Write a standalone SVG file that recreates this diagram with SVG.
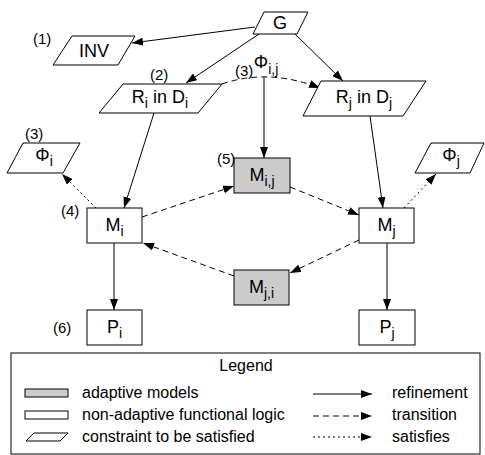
<svg xmlns="http://www.w3.org/2000/svg" width="485" height="455" viewBox="0 0 485 455">
<style>
.n{fill:#fff;stroke:#000;stroke-width:1}
.a{fill:#cccccc}
.t{font-family:"Liberation Sans",Arial,Helvetica,sans-serif;font-size:18px;fill:#000;text-anchor:middle}
.s{font-size:14px}
.l{font-family:"Liberation Sans",Arial,Helvetica,sans-serif;font-size:15px;fill:#000}
.g{font-family:"Liberation Sans",Arial,Helvetica,sans-serif;font-size:16px;fill:#000}
.e{fill:none;stroke:#000;stroke-width:1}
.d{stroke-dasharray:6 4}
.o{stroke-dasharray:2 3}
</style>
<defs>
<marker id="ah" viewBox="0 0 11 8" refX="11" refY="4" markerWidth="11" markerHeight="8" orient="auto" markerUnits="userSpaceOnUse"><path d="M0,0 L11,4 L0,8 z" fill="#000"/></marker>
</defs>
<g id="connectors">
<line class="e" x1="255" y1="27" x2="132" y2="43" marker-end="url(#ah)"/>
<line class="e" x1="259" y1="34" x2="186" y2="83" marker-end="url(#ah)"/>
<line class="e" x1="295" y1="34" x2="343" y2="81" marker-end="url(#ah)"/>
<path class="e d" d="M222,84 Q268,68 320,88" marker-end="url(#ah)"/>
<line class="e" x1="264" y1="77" x2="264" y2="158" marker-end="url(#ah)"/>
<line class="e" x1="154" y1="113" x2="124" y2="208" marker-end="url(#ah)"/>
<line class="e" x1="370" y1="116" x2="383" y2="208" marker-end="url(#ah)"/>
<line class="e o" x1="96" y1="208" x2="62" y2="174" marker-end="url(#ah)"/>
<line class="e o" x1="404" y1="208" x2="436" y2="174" marker-end="url(#ah)"/>
<line class="e d" x1="142" y1="217" x2="234" y2="186" marker-end="url(#ah)"/>
<line class="e d" x1="290" y1="187" x2="359" y2="215" marker-end="url(#ah)"/>
<line class="e d" x1="359" y1="240" x2="290" y2="273" marker-end="url(#ah)"/>
<line class="e d" x1="234" y1="276" x2="143" y2="243" marker-end="url(#ah)"/>
<line class="e" x1="114" y1="243" x2="114" y2="310" marker-end="url(#ah)"/>
<line class="e" x1="387" y1="243" x2="387" y2="310" marker-end="url(#ah)"/>
</g>
<g id="G"><polygon class="n" points="264,12 308,12 297,34 253,34"/><text class="t" x="280" y="29">G</text></g>
<g id="INV"><polygon class="n" points="72,36 135,36 118,65 53,65"/><text class="t" x="94" y="57">INV</text><text class="l" x="33" y="44">(1)</text></g>
<g id="Ri"><polygon class="n" points="123,84 222,84 198,113 99,113"/><text class="t" x="160" y="103">R<tspan class="s" dy="5">i</tspan><tspan dy="-5"> in D</tspan><tspan class="s" dy="5">i</tspan></text><text class="l" x="150" y="80">(2)</text></g>
<g id="Rj"><polygon class="n" points="321,81 426,81 403,116 303,116"/><text class="t" x="364" y="103">R<tspan class="s" dy="5">j</tspan><tspan dy="-5"> in D</tspan><tspan class="s" dy="5">j</tspan></text></g>
<g id="Phiij"><text class="l" x="235" y="76">(3)</text><text class="t" x="266" y="68">Φ<tspan class="s" dy="6">i,j</tspan></text></g>
<g id="Phii"><polygon class="n" points="23,143 80,143 63,173 7,173"/><text class="t" x="44" y="161">Φ<tspan class="s" dy="5">i</tspan></text><text class="l" x="25" y="139">(3)</text></g>
<g id="Phij"><polygon class="n" points="431,143 484,143 470,173 415,173"/><text class="t" x="451" y="161">Φ<tspan class="s" dy="5">j</tspan></text></g>
<g id="Mi"><rect class="n" x="87" y="208" width="55" height="35"/><text class="t" x="114.5" y="231">M<tspan class="s" dy="5">i</tspan></text><text class="l" x="61" y="216">(4)</text></g>
<g id="Mj"><rect class="n" x="359" y="208" width="55" height="35"/><text class="t" x="386.5" y="231">M<tspan class="s" dy="5">j</tspan></text></g>
<g id="Mij"><rect class="n a" x="234" y="158" width="56" height="35"/><text class="t" x="262" y="181">M<tspan class="s" dy="5">i,j</tspan></text><text class="l" x="217" y="164">(5)</text></g>
<g id="Mji"><rect class="n a" x="234" y="270" width="55" height="35"/><text class="t" x="261.5" y="293">M<tspan class="s" dy="5">j,i</tspan></text></g>
<g id="Pi"><rect class="n" x="87" y="310" width="55" height="35"/><text class="t" x="114.5" y="333">P<tspan class="s" dy="5">i</tspan></text><text class="l" x="53" y="333">(6)</text></g>
<g id="Pj"><rect class="n" x="359" y="310" width="56" height="35"/><text class="t" x="387" y="333">P<tspan class="s" dy="5">j</tspan></text></g>
<g id="legend">
<rect class="n" x="11" y="353" width="469" height="101"/>
<text class="g" x="246" y="371" text-anchor="middle">Legend</text>
<rect class="n a" x="25" y="389" width="43" height="8"/>
<rect class="n" x="25" y="411" width="43" height="8"/>
<polygon class="n" points="34,433 68,433 60,441 26,441"/>
<text class="g" x="82" y="398">adaptive models</text>
<text class="g" x="82" y="420">non-adaptive functional logic</text>
<text class="g" x="82" y="442">constraint to be satisfied</text>
<line class="e" x1="313" y1="394" x2="372" y2="394" marker-end="url(#ah)"/>
<line class="e d" x1="313" y1="416" x2="372" y2="416" marker-end="url(#ah)"/>
<line class="e o" x1="313" y1="437" x2="372" y2="437" marker-end="url(#ah)"/>
<text class="g" x="392" y="398">refinement</text>
<text class="g" x="392" y="420">transition</text>
<text class="g" x="392" y="442">satisfies</text>
</g>
</svg>
